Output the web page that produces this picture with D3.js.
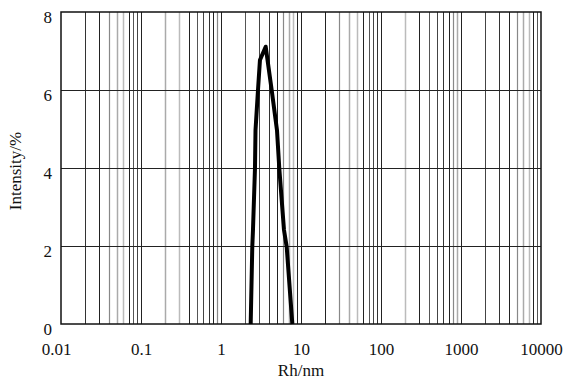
<!DOCTYPE html>
<html>
<head>
<meta charset="utf-8">
<script src="https://cdn.jsdelivr.net/npm/d3@7"></script>
<style>
  body { margin: 0; background: #fff; }
  svg { display: block; }
</style>
</head>
<body>
<svg id="chart"></svg>
<script>
// size distribution
const rh = [2.35, 2.46, 2.51, 2.66, 2.70, 2.90, 3.07, 3.62, 4.30, 5.01, 5.35, 6.13, 6.63, 7.79]
const intensity = [0, 1.97, 2.41, 4.0, 4.97, 6.0, 6.77, 7.11, 6.0, 4.97, 4.0, 2.41, 1.97, 0]

const xTicks = [0.01, 0.1, 1, 10, 100, 1000, 10000]
const xTickLabels = ['0.01', '0.1', '1', '10', '100', '1000', '10000']
const yTicks = [0, 2, 4, 6, 8]

const FONT = '"Liberation Serif", "Times New Roman", "DejaVu Serif", serif'

const W = 568, H = 381
const m = { left: 61, right: 27, top: 12, bottom: 57 }
const w = W - m.left - m.right
const h = H - m.top - m.bottom

const svg = d3.select('#chart').attr('width', W).attr('height', H)
const g = svg.append('g').attr('transform', `translate(${m.left},${m.top})`)

const x = d3.scaleLog().domain([0.01, 10000]).range([0, w])
const y = d3.scaleLinear().domain([0, 8]).range([h, 0])

// minor log grid, scanned look: a mix of grey and dark lines
const minor = []
for (let e = -2; e < 4; e++) {
    for (let k = 2; k <= 9; k++) minor.push(k * Math.pow(10, e))
}
const shades = ['#333', '#aaa', '#555', '#222', '#bbb', '#444', '#888', '#222']
const widths = [1, 1.5, 1, 1, 1.5, 1, 1.2, 1]
g.append('g').selectAll('line')
    .data(minor)
    .enter()
    .append('line')
    .attr('x1', d => Math.round(x(d)) + 0.5)
    .attr('x2', d => Math.round(x(d)) + 0.5)
    .attr('y1', 0)
    .attr('y2', h)
    .attr('stroke', (d, i) => shades[(i * 3 + Math.floor(i / 8)) % shades.length])
    .attr('stroke-width', (d, i) => widths[(i * 3 + Math.floor(i / 8)) % widths.length])

// decade lines
g.append('g').selectAll('line')
    .data(xTicks.slice(1, -1))
    .enter()
    .append('line')
    .attr('x1', d => Math.round(x(d)) + 0.5)
    .attr('x2', d => Math.round(x(d)) + 0.5)
    .attr('y1', 0)
    .attr('y2', h)
    .attr('stroke', '#222')
    .attr('stroke-width', 1)

// horizontal grid
g.append('g').selectAll('line')
    .data(yTicks.slice(1, -1))
    .enter()
    .append('line')
    .attr('x1', 0)
    .attr('x2', w)
    .attr('y1', d => Math.round(y(d)) + 0.5)
    .attr('y2', d => Math.round(y(d)) + 0.5)
    .attr('stroke', '#222')
    .attr('stroke-width', 1)

// frame
g.append('rect')
    .attr('x', 0).attr('y', 0)
    .attr('width', w).attr('height', h)
    .attr('fill', 'none')
    .attr('stroke', '#111')
    .attr('stroke-width', 1.5)

// curve
const line = d3.line()
    .x((d, i) => x(rh[i]))
    .y((d, i) => y(intensity[i]))
g.append('path')
    .datum(rh)
    .attr('d', line)
    .attr('fill', 'none')
    .attr('stroke', '#000')
    .attr('stroke-width', 4)
    .attr('stroke-linejoin', 'round')

// axes (labels only, frame drawn above)
const xAxis = d3.axisBottom(x).tickValues(xTicks)
    .tickFormat((d, i) => xTickLabels[i]).tickSize(0).tickPadding(19)
const yAxis = d3.axisLeft(y).tickValues(yTicks).tickSize(0).tickPadding(9)

const gx = g.append('g').attr('transform', `translate(0,${h})`).call(xAxis)
const gy = g.append('g').call(yAxis)
gx.select('.domain').remove()
gy.select('.domain').remove()
gx.attr('font-family', null)
gy.attr('font-family', null)
gx.selectAll('text').style('font-family', FONT).style('font-size', '17px').attr('fill', '#111')
gx.selectAll('text').filter((d, i) => i === 0).attr('dx', -5)
gy.selectAll('text').style('font-family', FONT).style('font-size', '17px').attr('fill', '#111').attr('dy', '0.6em')

svg.append('text')
    .attr('x', m.left + x(10))
    .attr('y', 376)
    .attr('text-anchor', 'middle')
    .style('font-family', FONT)
    .style('font-size', '17px')
    .attr('fill', '#111')
    .text('Rh/nm')

svg.append('text')
    .attr('transform', 'translate(21,171) rotate(-90)')
    .attr('text-anchor', 'middle')
    .style('font-family', FONT)
    .style('font-size', '17px')
    .attr('fill', '#111')
    .text('Intensity/%')
</script>
</body>
</html>
